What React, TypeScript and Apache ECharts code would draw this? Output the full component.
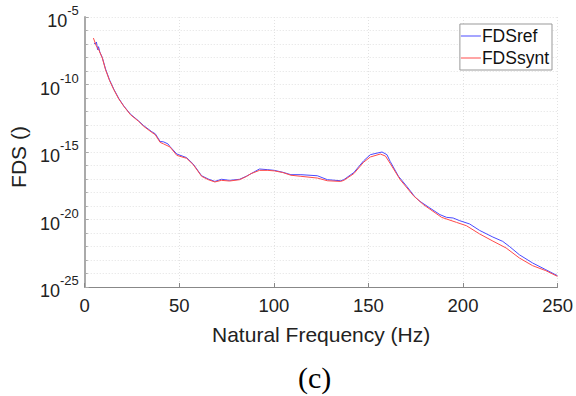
import React, { useEffect, useRef } from "react";
import * as echarts from "echarts";

// Natural frequency (Hz) and log10(FDS)
const refFreq = [4.9, 5.6, 6.2, 6.8, 7.3, 8, 9.3, 11, 13.1, 15.4, 18, 20.7, 24.2, 28.5, 31.2, 35.5, 37.3, 39.9, 41.7, 44, 45.1, 48.7, 53.9, 57.4, 61.8, 65.3, 68.8, 72.3, 76.6, 81.9, 85.4, 88, 92.4, 96.8, 100.3, 104.7, 109, 114.3, 123, 128.3, 135.3, 137, 142.3, 147.5, 151, 154, 157.2, 159.8, 161.5, 165.9, 170.3, 174.6, 177.3, 182.5, 187.8, 191.3, 194.8, 198.3, 203.5, 208.8, 215.8, 221, 224.5, 229.8, 236.8, 243.8, 249.9];
const refExp = [-6.93, -7.0, -6.85, -7.42, -7.2, -7.6, -8.0, -8.85, -9.65, -10.35, -11.03, -11.6, -12.2, -12.7, -13.05, -13.5, -13.65, -14.22, -14.25, -14.4, -14.6, -15.15, -15.42, -15.9, -16.76, -17.0, -17.18, -17.02, -17.1, -17.02, -16.8, -16.6, -16.26, -16.31, -16.36, -16.5, -16.68, -16.68, -16.76, -17.05, -17.13, -17.05, -16.52, -15.65, -15.2, -15.1, -15.0, -15.2, -15.7, -16.8, -17.55, -18.33, -18.66, -19.15, -19.64, -19.84, -19.89, -20.09, -20.33, -20.81, -21.3, -21.62, -21.99, -22.61, -23.22, -23.72, -24.16];

const syntFreq = [4.6, 6, 7.5, 9.3, 11, 13.1, 15.4, 18, 20.7, 24.2, 28.5, 31.2, 35.5, 37.3, 39.9, 41.7, 45.1, 48.7, 53.9, 57.4, 61.8, 65.3, 68.8, 72.3, 76.6, 81.9, 85.4, 88, 92.4, 96.8, 100.3, 104.7, 109, 114.3, 123, 128.3, 135.3, 137, 142.3, 147.5, 151, 156.3, 159, 161.5, 166.8, 173.8, 179.1, 188.7, 196.5, 201.8, 208.8, 215.8, 222.8, 229.8, 236.8, 243.8, 249.9];
const syntExp = [-6.56, -7.1, -7.45, -8.04, -8.9, -9.7, -10.39, -11.07, -11.62, -12.24, -12.73, -13.1, -13.55, -13.72, -14.29, -14.4, -14.63, -15.25, -15.47, -15.94, -16.8, -17.05, -17.22, -17.1, -17.15, -17.05, -16.82, -16.6, -16.36, -16.36, -16.4, -16.52, -16.72, -16.8, -16.93, -17.13, -17.18, -17.1, -16.6, -15.75, -15.37, -15.15, -15.3, -15.85, -17.05, -18.24, -18.9, -19.84, -20.21, -20.46, -21.07, -21.6, -22.11, -22.85, -23.42, -23.79, -24.21];

const seriesNames = ["FDSref", "FDSsynt"];

const FONT = "Liberation Sans, Arial, sans-serif";

export default function App() {
  const ref = useRef<HTMLDivElement>(null);
  useEffect(() => {
    if (!ref.current) return;
    const chart = echarts.init(ref.current, undefined, { renderer: "svg" });
    const refData = refFreq.map((f, i) => [f, refExp[i]]);
    const syntData = syntFreq.map((f, i) => [f, syntExp[i]]);
    chart.setOption({
      animation: false,
      backgroundColor: "#ffffff",
      textStyle: { fontFamily: FONT },
      grid: { left: 82, right: 18, top: 17, bottom: 109, containLabel: false },
      legend: {
        orient: "vertical",
        right: 24,
        top: 24,
        backgroundColor: "#fff",
        borderColor: "#999",
        borderWidth: 1,
        borderRadius: 0,
        padding: [2, 3, 2, 1],
        itemGap: 2,
        icon: "rect",
        itemWidth: 20,
        itemHeight: 1,
        textStyle: { fontFamily: FONT, fontSize: 17.5, lineHeight: 20, color: "#111", padding: [0, 0, 0, -4] },
        data: seriesNames,
      },
      xAxis: {
        type: "value",
        min: 0,
        max: 250,
        interval: 50,
        name: "Natural Frequency (Hz)",
        nameLocation: "middle",
        nameGap: 37,
        nameTextStyle: { fontFamily: FONT, fontSize: 21, color: "#222" },
        axisLine: { show: true, onZero: false, lineStyle: { color: "#888", width: 1 } },
        axisTick: { show: true, inside: true, length: 4, lineStyle: { color: "#888" } },
        axisLabel: { fontFamily: FONT, fontSize: 18.5, color: "#222", margin: 9 },
        splitLine: { show: true, lineStyle: { color: "#e2e2e2", type: [1, 2], width: 1 } },
      },
      yAxis: {
        type: "value",
        min: -25,
        max: -5,
        interval: 5,
        name: "FDS ()",
        nameLocation: "middle",
        nameGap: 50,
        nameTextStyle: { fontFamily: FONT, fontSize: 21, color: "#222", padding: [0, 10, 0, 0] },
        axisLine: { show: true, lineStyle: { color: "#aaa", width: 2 } },
        axisTick: { show: true, inside: true, length: 4, lineStyle: { color: "#aaa" } },
        minorTick: { show: true, splitNumber: 5, length: 3, lineStyle: { color: "#aaa" } },
        minorSplitLine: { show: true, lineStyle: { color: "#e2e2e2", type: [1, 2], width: 1 } },
        splitLine: { show: true, lineStyle: { color: "#e2e2e2", type: [1, 2], width: 1 } },
        axisLabel: {
          margin: 6,
          formatter: (v: number) => `{b|10}{s|${v}}`,
          rich: {
            b: { fontFamily: FONT, fontSize: 18, color: "#222", lineHeight: 26, verticalAlign: "bottom" },
            s: { fontFamily: FONT, fontSize: 13, color: "#222", lineHeight: 26, verticalAlign: "top" },
          },
        },
      },
      series: [
        {
          name: seriesNames[0],
          type: "line",
          data: refData,
          symbol: "none",
          lineStyle: { color: "#4a4aff", width: 1 },
          itemStyle: { color: "#4a4aff" },
        },
        {
          name: seriesNames[1],
          type: "line",
          data: syntData,
          symbol: "none",
          lineStyle: { color: "#ff4a4a", width: 1 },
          itemStyle: { color: "#ff4a4a" },
        },
      ],
      graphic: [
        {
          type: "text",
          left: 298,
          top: 362,
          style: { text: "(c)", fontFamily: "Liberation Serif, Times New Roman, serif", fontSize: 30, fill: "#000" },
        },
      ],
    });
    return () => chart.dispose();
  }, []);
  return <div ref={ref} style={{ width: 576, height: 396, position: "fixed", left: 0, top: 0 }} />;
}
